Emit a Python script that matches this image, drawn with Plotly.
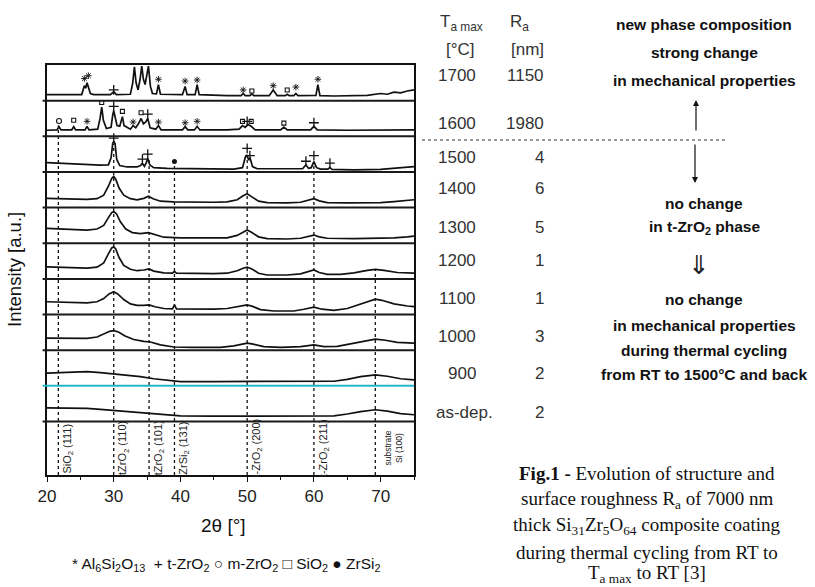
import plotly.graph_objects as go

# ---------------- data ----------------
PANELS = ["1700", "1600", "1500", "1400", "1300", "1200", "1100", "1000", "900", "as-dep."]
T_AMAX = ["1700", "1600", "1500", "1400", "1300", "1200", "1100", "1000", "900", "as-dep."]
RA_NM = ["1150", "1980", "4", "6", "5", "1", "1", "3", "2", "2"]

X_1700 = [20, 22, 24, 25.2, 25.6, 25.8, 26.0, 26.2, 26.5, 27, 29.5, 30.0, 30.4, 32.5, 32.85, 33.1, 33.35,
          33.65, 33.95, 34.2, 34.45, 34.7, 34.95, 35.2, 35.5, 35.8, 36.4, 36.7, 37.0, 40.3, 40.7, 41.0,
          42.2, 42.5, 42.8, 45, 47, 49.1, 49.4, 49.7, 50.4, 50.7, 51.0, 53.3, 53.9, 54.5, 55.7, 56.0,
          56.3, 57.0, 57.3, 57.6, 60.3, 60.6, 60.9, 63, 66, 68, 70, 71, 72, 73, 74, 75]
Y_1700 = [0.17, 0.16, 0.17, 0.17, 0.42, 0.35, 0.5, 0.38, 0.2, 0.17, 0.17, 0.25, 0.17, 0.18, 0.5, 0.95, 0.5,
          0.3, 0.6, 0.97, 0.6, 0.45, 0.75, 0.97, 0.4, 0.2, 0.19, 0.45, 0.18, 0.17, 0.4, 0.17,
          0.17, 0.45, 0.17, 0.15, 0.14, 0.14, 0.2, 0.14, 0.14, 0.19, 0.14, 0.14, 0.3, 0.14, 0.14, 0.18,
          0.14, 0.14, 0.2, 0.14, 0.15, 0.45, 0.14, 0.13, 0.14, 0.15, 0.2, 0.18, 0.24, 0.22, 0.27, 0.3]

X_1600 = [20, 21.5, 21.8, 22.1, 23.7, 24.0, 24.3, 25.7, 26.0, 26.3, 27.6, 27.95, 28.2, 28.45, 28.9, 29.6,
          29.85, 30.0, 30.2, 30.5, 30.9, 31.1, 31.3, 31.55, 32.5, 32.9, 33.3, 33.7, 34.1, 34.45, 34.8,
          35.1, 35.45, 36.3, 36.7, 37.1, 40.3, 40.7, 41.1, 42.1, 42.5, 42.9, 45, 47, 48.8, 49.3, 49.7,
          50.1, 50.6, 51.2, 55.0, 55.5, 56.0, 59.5, 60.0, 60.5, 65, 70, 75]
Y_1600 = [0.17, 0.18, 0.27, 0.18, 0.18, 0.27, 0.18, 0.18, 0.28, 0.18, 0.2, 0.5, 0.82, 0.45, 0.22, 0.25,
          0.6, 0.72, 0.55, 0.3, 0.28, 0.45, 0.55, 0.3, 0.2, 0.3, 0.24, 0.35, 0.5, 0.35, 0.4,
          0.5, 0.24, 0.2, 0.3, 0.18, 0.18, 0.27, 0.18, 0.18, 0.28, 0.18, 0.17, 0.18, 0.2, 0.3, 0.25,
          0.33, 0.28, 0.18, 0.18, 0.26, 0.18, 0.18, 0.28, 0.18, 0.17, 0.17, 0.18]

X_1500 = [20, 22, 24, 26, 28, 29.2, 29.6, 29.85, 30.0, 30.2, 30.45, 30.9, 32, 33.5, 34.0, 34.3, 34.6,
          34.85, 35.1, 35.4, 36, 38, 42, 45, 48, 49.3, 49.7, 49.95, 50.2, 50.45, 50.8, 51.5, 55, 58.3,
          58.8, 59.2, 59.6, 60.0, 60.4, 61, 62.1, 62.4, 62.7, 66, 70, 72, 75]
Y_1500 = [0.26, 0.24, 0.22, 0.2, 0.19, 0.2, 0.4, 0.8, 0.86, 0.8, 0.35, 0.18, 0.14, 0.14, 0.18, 0.24, 0.16,
          0.25, 0.38, 0.2, 0.12, 0.1, 0.09, 0.08, 0.08, 0.12, 0.4, 0.48, 0.35, 0.38, 0.15, 0.09, 0.08, 0.09,
          0.2, 0.1, 0.12, 0.29, 0.12, 0.08, 0.08, 0.13, 0.07, 0.06, 0.07, 0.1, 0.15]

X_1400 = [20, 22, 24, 26, 27.5, 28.5, 29.2, 29.7, 30.0, 30.3, 30.8, 31.5, 32.5, 33.5, 34.5, 35.2, 35.9,
          37, 39, 42, 45, 47, 48.5, 49.4, 50.0, 50.7, 51.7, 53, 56, 58, 59.2, 60.0, 60.8, 62, 65, 68,
          70, 72, 74, 75]
Y_1400 = [0.26, 0.25, 0.24, 0.23, 0.25, 0.35, 0.6, 0.82, 0.88, 0.8, 0.55, 0.35, 0.25, 0.22, 0.26, 0.32, 0.25,
          0.18, 0.16, 0.15, 0.15, 0.16, 0.22, 0.33, 0.39, 0.3, 0.18, 0.14, 0.13, 0.15, 0.2, 0.25, 0.19, 0.14,
          0.13, 0.13, 0.14, 0.17, 0.2, 0.22]

X_1300 = [20, 22, 24, 26, 27.5, 28.5, 29.2, 29.7, 30.0, 30.4, 31.0, 31.8, 32.8, 34, 35.2, 36, 37.5, 40,
          44, 47, 48.5, 49.4, 50.0, 50.7, 51.7, 53, 56, 58, 59.2, 60.0, 60.8, 62, 66, 69, 72, 74, 75]
Y_1300 = [0.42, 0.4, 0.38, 0.37, 0.4, 0.5, 0.72, 0.86, 0.89, 0.83, 0.6, 0.4, 0.3, 0.27, 0.3, 0.25, 0.17,
          0.15, 0.14, 0.15, 0.22, 0.32, 0.37, 0.3, 0.18, 0.13, 0.12, 0.14, 0.19, 0.23, 0.18, 0.14, 0.13,
          0.14, 0.15, 0.18, 0.2]

X_1200 = [20, 22, 24, 26, 27.5, 28.5, 29.2, 29.7, 30.0, 30.3, 30.8, 31.5, 32.5, 33.5, 34.5, 35.3, 36,
          37.5, 38.8, 39.1, 39.4, 42, 45, 47, 48.5, 49.4, 50.0, 50.7, 51.7, 53, 56, 58, 59.2, 60.0, 60.8,
          62, 64, 66, 68, 69.2, 70.5, 72.5, 75]
Y_1200 = [0.34, 0.33, 0.31, 0.3, 0.33, 0.45, 0.7, 0.87, 0.9, 0.84, 0.6, 0.38, 0.27, 0.23, 0.25, 0.28, 0.22,
          0.17, 0.16, 0.21, 0.16, 0.15, 0.15, 0.16, 0.23, 0.3, 0.33, 0.28, 0.16, 0.11, 0.11, 0.14, 0.2, 0.25,
          0.18, 0.13, 0.13, 0.17, 0.24, 0.27, 0.24, 0.18, 0.16]

X_1100 = [20, 22, 24, 26, 27.5, 28.5, 29.3, 30.0, 30.6, 31.5, 32.5, 33.5, 34.5, 35.3, 36.2, 37.5, 38.8,
          39.1, 39.4, 42, 45, 47, 48.5, 49.4, 50.0, 50.8, 52, 54, 57, 58.5, 60.0, 61.2, 63, 65, 67, 68.4,
          69.2, 70.2, 72, 74, 75]
Y_1100 = [0.36, 0.35, 0.34, 0.33, 0.36, 0.45, 0.58, 0.64, 0.58, 0.42, 0.3, 0.26, 0.26, 0.27, 0.22, 0.17, 0.16,
          0.27, 0.16, 0.15, 0.15, 0.17, 0.22, 0.26, 0.27, 0.23, 0.14, 0.1, 0.1, 0.15, 0.21, 0.15, 0.12, 0.17,
          0.3, 0.4, 0.43, 0.4, 0.3, 0.24, 0.22]

X_1000 = [20, 22, 24, 26, 27.5, 28.5, 29.4, 30.0, 30.7, 31.7, 33, 34.5, 35.5, 37, 39, 42, 46, 48, 49.3,
          50.0, 50.9, 52.5, 55, 58, 60.0, 61.5, 63.5, 65.5, 67.5, 69.2, 70.7, 72.5, 75]
Y_1000 = [0.34, 0.33, 0.33, 0.33, 0.37, 0.46, 0.53, 0.55, 0.51, 0.4, 0.3, 0.25, 0.23, 0.15, 0.09, 0.08, 0.08,
          0.12, 0.18, 0.2, 0.17, 0.1, 0.08, 0.1, 0.15, 0.1, 0.11, 0.18, 0.27, 0.31, 0.28, 0.22, 0.2]

X_900 = [20, 22, 24, 26, 28, 30, 32, 34, 36, 38, 40, 45, 50, 55, 60, 63, 65, 67, 69.2, 71, 73, 75]
Y_900 = [0.36, 0.38, 0.4, 0.4, 0.37, 0.34, 0.31, 0.26, 0.2, 0.15, 0.12, 0.12, 0.12, 0.12, 0.12, 0.13, 0.18,
         0.26, 0.31, 0.27, 0.2, 0.17]

X_ASDEP = [20, 22, 24, 26, 28, 30, 32, 34, 36, 38, 40, 45, 50, 55, 60, 63, 65, 67, 69.2, 71, 73, 75]
Y_ASDEP = [0.38, 0.38, 0.38, 0.37, 0.34, 0.31, 0.28, 0.25, 0.21, 0.18, 0.16, 0.15, 0.15, 0.15, 0.15, 0.16,
           0.21, 0.28, 0.33, 0.29, 0.22, 0.19]

# phase markers: panel, 2theta, height within panel
AL_P = ["1700"] * 9 + ["1600"] * 5
AL_X = [25.6, 26.2, 36.7, 40.7, 42.5, 49.4, 53.9, 57.3, 60.6, 26.0, 32.9, 36.7, 40.7, 42.5]
AL_F = [0.62, 0.70, 0.60, 0.55, 0.58, 0.30, 0.42, 0.38, 0.60, 0.42, 0.40, 0.40, 0.38, 0.42]

TZ_P = ["1700"] * 3 + ["1600"] * 4 + ["1500"] * 8
TZ_X = [30.0, 33.1, 34.2, 30.0, 35.1, 50.0, 60.0, 30.0, 34.3, 35.1, 50.0, 50.4, 58.8, 60.0, 62.4]
TZ_F = [0.30, 1.06, 1.06, 0.84, 0.62, 0.42, 0.38, 0.95, 0.36, 0.50, 0.66, 0.46, 0.30, 0.46, 0.25]

MZ_P = ["1600"]
MZ_X = [21.8]
MZ_F = [0.43]

SI_P = ["1600"] * 7 + ["1700"] * 2
SI_X = [24.0, 28.2, 31.3, 34.1, 49.3, 50.6, 55.5, 50.7, 56.0]
SI_F = [0.45, 0.95, 0.70, 0.66, 0.42, 0.42, 0.37, 0.27, 0.30]

ZS_P = ["1500"]
ZS_X = [39.1]
ZS_F = [0.29]

# reference lines
REF_X = [21.7, 30.0, 35.3, 39.1, 50.0, 60.0, 69.2]
REF_FROM_P = ["1600", "1500", "1500", "1500", "1500", "1500", "1200"]
REF_FROM_F = [0.30, 0.80, 0.35, 0.25, 0.45, 0.28, 0.25]
REF_LABELS = ["SiO<sub>2</sub> (111)", "tZrO<sub>2</sub> (110)", "tZrO<sub>2</sub> (101)",
              "ZrSi<sub>2</sub> (131)", "t-ZrO<sub>2</sub> (200)", "t-ZrO<sub>2</sub> (211)",
              "substrate<br>Si (100)"]

X_TICKS = [20, 30, 40, 50, 60, 70]

# ---------------- layout geometry ----------------
W, H = 815, 587
ML, MR, MT, MB = 47, 401, 65, 112
PW = W - ML - MR
PH = H - MT - MB
LABEL_H = 1.5
YMAX = LABEL_H + len(PANELS)


def px(x):
    return (x - ML) / PW


def py(y):
    return (H - MB - y) / PH


def base(p):
    return LABEL_H + (len(PANELS) - 1 - PANELS.index(p))


FONT = "Liberation Sans, Arial, sans-serif"
SERIF = "Liberation Serif, Times New Roman, serif"

fig = go.Figure()

TRACE_XY = [(X_1700, Y_1700), (X_1600, Y_1600), (X_1500, Y_1500), (X_1400, Y_1400), (X_1300, Y_1300),
            (X_1200, Y_1200), (X_1100, Y_1100), (X_1000, Y_1000), (X_900, Y_900), (X_ASDEP, Y_ASDEP)]

shapes = []
for xv, p, f in zip(REF_X, REF_FROM_P, REF_FROM_F):
    shapes.append(dict(type="line", xref="x", yref="y", x0=xv, x1=xv, y0=0, y1=base(p) + f,
                       line=dict(color="#111", width=1.3, dash="3px,3px"), layer="below"))
for p in PANELS:
    yb = base(p)
    col = "#22b8c8" if p == "900" else "#1a1a1a"
    shapes.append(dict(type="line", xref="paper", yref="y", x0=-0.012, x1=1, y0=yb, y1=yb,
                       line=dict(color=col, width=2)))
shapes.append(dict(type="line", xref="paper", yref="paper", x0=px(422), x1=px(727), y0=py(140), y1=py(140),
                   line=dict(color="#333", width=1, dash="3px,3px")))

for p, (xs, ys) in zip(PANELS, TRACE_XY):
    b = base(p)
    fig.add_trace(go.Scatter(x=xs, y=[b + v for v in ys], mode="lines",
                             line=dict(color="#111", width=1.7), hoverinfo="skip", showlegend=False))


def add_markers(ps, xs, fs, symbol, size, lw=1.2):
    fig.add_trace(go.Scatter(x=xs, y=[base(p) + f for p, f in zip(ps, fs)], mode="markers",
                             marker=dict(symbol=symbol, size=size, color="#111",
                                         line=dict(color="#111", width=lw)),
                             cliponaxis=False, hoverinfo="skip", showlegend=False))


add_markers(AL_P, AL_X, AL_F, "asterisk-open", 5.5, 0.9)
add_markers(TZ_P, TZ_X, TZ_F, "cross-thin-open", 7, 1.3)
add_markers(MZ_P, MZ_X, MZ_F, "circle-open", 5, 1.1)
add_markers(SI_P, SI_X, SI_F, "square-open", 4, 1.1)
add_markers(ZS_P, ZS_X, ZS_F, "circle", 5, 0)

ann = []


def note(x, y, text, font, xanchor="center", **kw):
    d = dict(x=px(x), y=py(y), xref="paper", yref="paper", text=text, showarrow=False,
             xanchor=xanchor, yanchor="middle", font=font)
    d.update(kw)
    ann.append(d)


for xv, lab in zip(REF_X, REF_LABELS):
    two = "<br>" in lab
    ann.append(dict(x=xv, y=LABEL_H / 2, xref="x", yref="y", text=lab, textangle=-90,
                    showarrow=False, xshift=18 if two else 10, xanchor="center", yanchor="middle",
                    font=dict(family=FONT, size=8.5 if two else 11, color="#222")))

note(14, 270, "Intensity [a.u.]", dict(family=FONT, size=18.5, color="#111"), textangle=-90)
note(223, 525, "2θ [°]", dict(family=FONT, size=19, color="#111"))
note(226, 564, "* Al<sub>6</sub>Si<sub>2</sub>O<sub>13</sub>  + t-ZrO<sub>2</sub> ○ m-ZrO<sub>2</sub>"
               " □ SiO<sub>2</sub> ● ZrSi<sub>2</sub>", dict(family=FONT, size=15.5, color="#111"))

TF = dict(family=FONT, size=17, color="#333")
note(461, 23, "T<sub>a max</sub>", TF)
note(519, 23, "R<sub>a</sub>", TF)
note(460, 50, "[°C]", TF)
note(527, 50, "[nm]", TF)

ROW_Y = [75, 123, 157, 188, 227, 260, 298, 337, 373, 412]
for t, r, yy in zip(T_AMAX, RA_NM, ROW_Y):
    if t.isdigit():
        note(478, yy, t, TF, xanchor="right")
    else:
        note(464, yy, t, TF)
    note(546, yy, r, TF, xanchor="right")

BF = dict(family=FONT, size=15.5, color="#111")
NOTES = [("new phase composition", 25), ("strong change", 53), ("in mechanical properties", 80),
         ("no change", 203), ("in t-ZrO<sub>2</sub> phase", 227), ("no change", 299),
         ("in mechanical properties", 325), ("during thermal cycling", 350),
         ("from RT to 1500°C and back", 374)]
for txt, yy in NOTES:
    note(704, yy, "<b>" + txt + "</b>", BF)
note(699, 265, "⇓", dict(family="DejaVu Sans", size=26, color="#222"))

ann.append(dict(x=px(696), y=py(100), xref="paper", yref="paper", ax=0, ay=32, text="",
                showarrow=True, arrowhead=2, arrowsize=1, arrowwidth=1.2, arrowcolor="#111"))
ann.append(dict(x=px(695), y=py(183), xref="paper", yref="paper", ax=0, ay=-40, text="",
                showarrow=True, arrowhead=2, arrowsize=1, arrowwidth=1.2, arrowcolor="#111"))

CF = dict(family=SERIF, size=19, color="#111")
CAPTION = [("<b>Fig.1 -</b> Evolution of structure and", 473),
           ("surface roughness R<sub>a</sub> of 7000 nm", 500),
           ("thick Si<sub>31</sub>Zr<sub>5</sub>O<sub>64</sub> composite coating", 526),
           ("during thermal cycling from RT to", 552),
           ("T<sub>a max</sub> to RT [3]", 574)]
for txt, yy in CAPTION:
    note(647, yy, txt, CF)

fig.update_layout(
    width=W, height=H, margin=dict(l=ML, r=MR, t=MT, b=MB),
    plot_bgcolor="white", paper_bgcolor="white",
    shapes=shapes, annotations=ann, showlegend=False,
    xaxis=dict(range=[20, 75], tickvals=X_TICKS, ticks="outside", ticklen=5, tickcolor="#111",
               tickwidth=1.2, showgrid=False, zeroline=False, showline=True, mirror=True,
               linecolor="#111", linewidth=1.5,
               minor=dict(dtick=5, tick0=20, ticks="outside", ticklen=3, tickcolor="#111", showgrid=False),
               tickfont=dict(family=FONT, size=17, color="#222")),
    yaxis=dict(range=[0, YMAX], showticklabels=False, ticks="", showgrid=False, zeroline=False,
               showline=True, mirror=True, linecolor="#111", linewidth=1.5),
)

fig.write_html("out.html", config={"displayModeBar": False},
               post_script="document.body.style.margin='0px';")
